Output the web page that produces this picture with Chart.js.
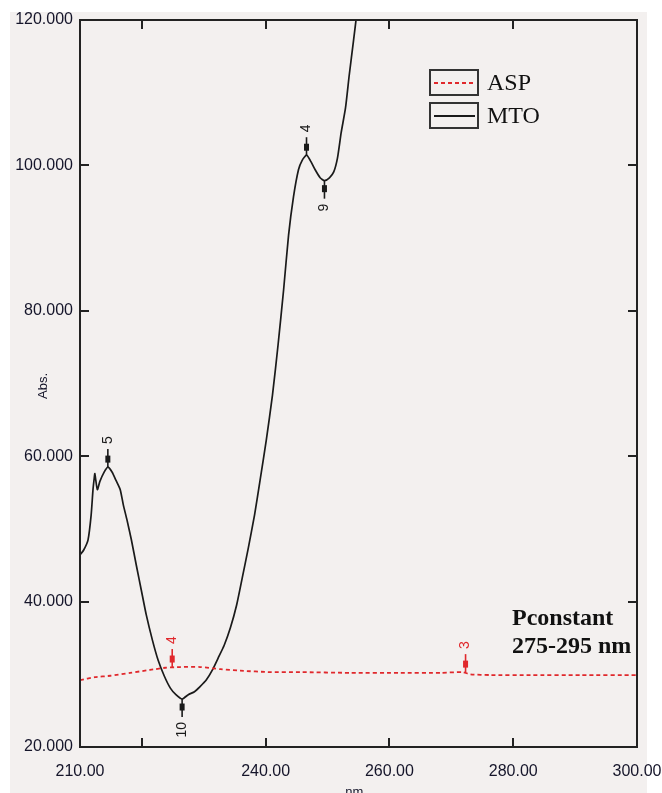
<!DOCTYPE html>
<html>
<head>
<meta charset="utf-8">
<script src="https://cdn.jsdelivr.net/npm/chart.js@4.4.1/dist/chart.umd.min.js"></script>
<style>
  html, body { margin: 0; padding: 0; background: #ffffff; }
  #wrap { position: relative; width: 662px; height: 793px; }
</style>
</head>
<body>
<div id="wrap"><canvas id="espectro"></canvas></div>
<script>
// --- datos del espectro ---
const mtoNm  = [210.0, 210.6, 211.3, 211.8, 212.1, 212.3, 212.4, 212.8, 213.2, 213.9, 214.5, 215.2, 215.8, 216.5, 217.0,
                217.6, 218.3, 219.1, 219.9, 220.7, 221.7, 222.6, 223.6, 224.6, 225.5, 226.5, 227.5, 228.5, 229.4, 230.4,
                231.4, 232.3, 233.3, 234.3, 235.3, 236.2, 237.2, 238.2, 239.1, 240.1, 241.1, 242.0, 242.9, 243.7, 244.5,
                245.3, 245.9, 246.6, 247.2, 248.0, 248.8, 249.5, 250.3, 251.0, 251.6, 252.2, 252.9, 253.5, 254.2, 254.7];
const mtoAbs = [46.4, 47.1, 48.5, 51.9, 55.4, 57.0, 57.6, 55.4, 56.5, 57.8, 58.5, 57.8, 56.7, 55.4, 53.3,
                51.2, 48.5, 45.0, 41.6, 38.2, 34.7, 32.0, 29.8, 28.1, 27.2, 26.6, 27.2, 27.6, 28.3, 29.2,
                30.6, 32.2, 34.0, 36.4, 39.5, 43.2, 47.4, 51.9, 56.7, 62.2, 68.4, 75.3, 82.9, 90.4, 95.7,
                99.4, 100.7, 101.4, 100.7, 99.4, 98.3, 97.9, 98.3, 99.1, 101.0, 104.5, 107.9, 112.4, 117.2, 120.7];

const aspNm  = [210.0, 212.4, 214.9, 218.1, 221.3, 223.8, 226.2, 229.4, 232.7, 235.9, 240.8, 245.6, 253.7, 261.8,
                268.3, 271.8, 273.1, 276.4, 282.8, 290.9, 300.0];
const aspAbs = [29.2, 29.6, 29.8, 30.2, 30.6, 30.9, 31.0, 31.0, 30.7, 30.5, 30.3, 30.3, 30.2, 30.2,
                30.2, 30.3, 30.0, 29.9, 29.9, 29.9, 29.9];

// picos / valles marcados
const mtoPeakNm    = [214.5, 246.6, 226.5, 249.5];
const mtoPeakAbs   = [58.5, 101.4, 26.6, 97.9];
const mtoPeakLabel = ['5', '4', '10', '9'];
const mtoPeakUp    = [true, true, false, false];

const aspPeakNm    = [224.9, 272.3];
const aspPeakAbs   = [31.0, 30.3];
const aspPeakLabel = ['4', '3'];

const xTicks = [210, 220, 240, 260, 280, 300];
const xTickLabels = ['210.00', '', '240.00', '260.00', '280.00', '300.00'];
const yTicks = [20, 40, 60, 80, 100, 120];

const toXY = (xs, ys) => xs.map((v, i) => ({ x: v, y: ys[i] }));

const ROJO = '#e0282c';
const NEGRO = '#1a1a1a';
const TEXTO = '#15152a';

// fondo gris con franjas blancas
const fondo = {
    id: 'fondo',
    beforeDraw(chart) {
        const c = chart.ctx;
        c.save();
        c.fillStyle = '#ffffff';
        c.fillRect(0, 0, chart.width, chart.height);
        c.fillStyle = '#f3f0ef';
        c.fillRect(10, 12, 637, chart.height - 12);
        c.restore();
    }
};

// marco, marcas internas, leyenda, picos y textos
const decoracion = {
    id: 'decoracion',
    afterDatasetsDraw(chart) {
        const c = chart.ctx;
        const a = chart.chartArea;
        const sx = chart.scales.x, sy = chart.scales.y;
        c.save();

        // marco
        c.strokeStyle = '#222';
        c.lineWidth = 2;
        c.strokeRect(a.left, a.top, a.right - a.left, a.bottom - a.top);

        // marcas hacia dentro
        c.lineWidth = 2;
        xTicks.slice(1, -1).forEach(v => {
            const px = Math.round(sx.getPixelForValue(v));
            c.beginPath();
            c.moveTo(px, a.bottom); c.lineTo(px, a.bottom - 9);
            c.moveTo(px, a.top); c.lineTo(px, a.top + 9);
            c.stroke();
        });
        yTicks.slice(1, -1).forEach(v => {
            const py = Math.round(sy.getPixelForValue(v));
            c.beginPath();
            c.moveTo(a.left, py); c.lineTo(a.left + 9, py);
            c.moveTo(a.right, py); c.lineTo(a.right - 9, py);
            c.stroke();
        });

        // picos
        const marcar = (nm, ab, txt, up, color) => {
            const px = sx.getPixelForValue(nm);
            const py = sy.getPixelForValue(ab);
            const s = up ? -1 : 1;
            c.strokeStyle = color;
            c.fillStyle = color;
            c.lineWidth = 1.6;
            c.beginPath();
            c.moveTo(px, py); c.lineTo(px, py + s * 18);
            c.stroke();
            c.fillRect(px - 2.5, py + s * 8 - 3.5, 5, 7);
            c.save();
            c.translate(px, py + s * 23);
            c.rotate(-Math.PI / 2);
            c.font = '14px "Liberation Sans", Arial, sans-serif';
            c.textBaseline = 'middle';
            c.textAlign = up ? 'left' : 'right';
            c.fillText(txt, 0, 0);
            c.restore();
        };
        mtoPeakNm.forEach((v, i) => marcar(v, mtoPeakAbs[i], mtoPeakLabel[i], mtoPeakUp[i], NEGRO));
        aspPeakNm.forEach((v, i) => marcar(v, aspPeakAbs[i], aspPeakLabel[i], true, ROJO));

        // leyenda
        chart.data.datasets.forEach((ds, i) => {
            const y0 = 70 + i * 33;
            c.strokeStyle = '#333';
            c.lineWidth = 2;
            c.setLineDash([]);
            c.strokeRect(430, y0, 48, 25);
            c.strokeStyle = ds.borderColor;
            c.lineWidth = 1.8;
            c.setLineDash(ds.borderDash || []);
            c.beginPath();
            c.moveTo(434, y0 + 13); c.lineTo(475, y0 + 13);
            c.stroke();
            c.setLineDash([]);
            c.fillStyle = '#111';
            c.font = '24px "Liberation Serif", "Times New Roman", serif';
            c.textAlign = 'left';
            c.textBaseline = 'middle';
            c.fillText(ds.label, 487, y0 + 14);
        });

        // nota
        c.fillStyle = '#111';
        c.font = 'bold 24px "Liberation Serif", "Times New Roman", serif';
        c.textAlign = 'left';
        c.textBaseline = 'alphabetic';
        c.fillText('Pconstant', 512, 625);
        c.fillText('275-295 nm', 512, 653);

        // títulos de ejes
        c.fillStyle = TEXTO;
        c.font = '13px "Liberation Sans", Arial, sans-serif';
        c.textAlign = 'center';
        c.textBaseline = 'middle';
        c.fillText('nm.', 356, 792);
        c.save();
        c.translate(43, 386);
        c.rotate(-Math.PI / 2);
        c.fillText('Abs.', 0, 0);
        c.restore();

        c.restore();
    }
};

new Chart(document.getElementById('espectro'), {
    type: 'line',
    data: {
        datasets: [{
            label: 'ASP',
            data: toXY(aspNm, aspAbs),
            borderColor: ROJO,
            borderDash: [4, 3],
            borderWidth: 1.8,
            pointRadius: 0,
            tension: 0.2
        }, {
            label: 'MTO',
            data: toXY(mtoNm, mtoAbs),
            borderColor: NEGRO,
            borderWidth: 1.7,
            pointRadius: 0,
            tension: 0.2
        }]
    },
    options: {
        responsive: true,
        maintainAspectRatio: false,
        animation: false,
        layout: { padding: { top: 20, right: 25, left: 0, bottom: 0 } },
        plugins: {
            legend: { display: false },
            tooltip: { enabled: false }
        },
        scales: {
            x: {
                type: 'linear',
                min: 210,
                max: 300,
                afterBuildTicks: (s) => { s.ticks = xTicks.map(v => ({ value: v })); },
                afterFit: (s) => { s.height = 46; s.paddingLeft = 0; s.paddingRight = 0; },
                grid: { display: false, drawTicks: false },
                border: { display: false },
                ticks: {
                    autoSkip: false,
                    maxRotation: 0,
                    padding: 15,
                    color: TEXTO,
                    font: { family: '"Liberation Sans", Arial, sans-serif', size: 16 },
                    callback: (v) => xTickLabels[xTicks.indexOf(v)]
                }
            },
            y: {
                min: 20,
                max: 120,
                afterBuildTicks: (s) => { s.ticks = yTicks.map(v => ({ value: v })); },
                afterFit: (s) => { s.width = 80; s.paddingTop = 0; s.paddingBottom = 0; },
                grid: { display: false, drawTicks: false },
                border: { display: false },
                ticks: {
                    padding: 7,
                    color: TEXTO,
                    font: { family: '"Liberation Sans", Arial, sans-serif', size: 16 },
                    callback: (v) => v.toFixed(3)
                }
            }
        }
    },
    plugins: [fondo, decoracion]
});
</script>
</body>
</html>
